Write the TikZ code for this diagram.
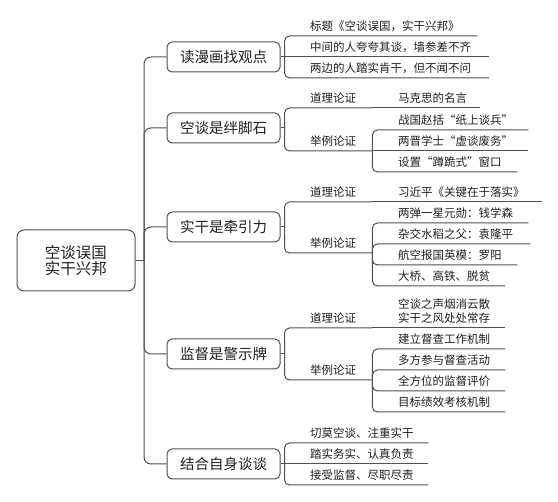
\documentclass[tikz,border=0pt]{standalone}
\usepackage{fontspec}
\newfontfamily\cjk{Noto Sans CJK SC}
\usetikzlibrary{calc}
\definecolor{linec}{HTML}{505050}
\definecolor{textc}{HTML}{1E1E1E}
\begin{document}
\begin{tikzpicture}[x=1pt,y=-1pt,
  conn/.style={draw=linec, line width=1pt, rounded corners=5pt},
  trunk/.style={draw=linec, line width=1pt, rounded corners=7pt},
  rootbox/.style={draw=linec, line width=1pt, rounded corners=7pt, minimum width=118pt, minimum height=61pt, align=center, font=\cjk\fontsize{15.5pt}{16.5pt}\selectfont, text=textc, inner sep=0pt},
  topic/.style={draw=linec, line width=1pt, rounded corners=5pt, minimum width=113pt, minimum height=30pt, font=\cjk\fontsize{14.5pt}{17pt}\selectfont, text=textc, inner sep=0pt},
  leaf/.style={anchor=south west, inner xsep=0pt, inner ysep=3pt, text width={#1pt}, align=left, execute at begin node={\hspace*{26pt}}, text height=9pt, text depth=2pt, font=\cjk\fontsize{11.5pt}{14pt}\selectfont, text=textc},
]
\useasboundingbox (0,0) rectangle (558,502);

% root and topics
\node[rootbox] (root) at (76,260.5) {空谈误国\\实干兴邦};
\node[topic] (k1) at (223.5,57) {读漫画找观点};
\node[topic] (k2) at (223.5,128) {空谈是绊脚石};
\node[topic] (k3) at (223.5,227) {实干是牵引力};
\node[topic] (k4) at (223.5,354) {监督是警示牌};
\node[topic] (k5) at (223.5,464) {结合自身谈谈};

\coordinate (tr) at (144,260.5);
\draw[trunk] (root.east) -- (tr);
\foreach \k in {k1,k2,k3,k4,k5} \draw[trunk] (tr) |- (\k.west);

\coordinate (b1) at ($(k1.east)+(4,0)$);
\coordinate (b2) at ($(k2.east)+(4,0)$);
\coordinate (b3) at ($(k3.east)+(4,0)$);
\coordinate (b4) at ($(k4.east)+(4,0)$);
\coordinate (b5) at ($(k5.east)+(4,0)$);
\foreach \k/\b in {k1/b1,k2/b2,k3/b3,k4/b4,k5/b5} \draw[conn] (\k.east) -- (\b);

% branch 1
\node[leaf=193] (t11) at (284,36) {标题《空谈误国，实干兴邦》};
\node[leaf=205] (t12) at (284,57) {中间的人夸夸其谈，墙参差不齐};
\node[leaf=205] (t13) at (284,78) {两边的人踏实肯干，但不闻不问};
\draw[conn] (b1) |- (t11.south east);
\draw[conn] (b1) -- (t12.south east);
\draw[conn] (b1) |- (t13.south east);

% branch 2
\node[leaf=88] (d2) at (284,108) {道理论证};
\node[leaf=88] (j2) at (284,151) {举例论证};
\node[leaf=108] (m2) at (372,108) {马克思的名言};
\node[leaf=156] (e21) at (372,130) {战国赵括“纸上谈兵”};
\node[leaf=156] (e22) at (372,151) {两晋学士“虚谈废务”};
\node[leaf=145] (e23) at (372,172) {设置“蹲跪式”窗口};
\draw[conn] (b2) |- (d2.south east);
\draw[conn] (b2) |- (j2.south east);
\draw[conn] (d2.south east) -- (m2.south east);
\draw[conn] (j2.south east) |- (e21.south east);
\draw[conn] (j2.south east) -- (e22.south east);
\draw[conn] (j2.south east) |- (e23.south east);

% branch 3
\node[leaf=88] (d3) at (284,202) {道理论证};
\node[leaf=88] (j3) at (284,253) {举例论证};
\node[leaf=170] (m3) at (372,202) {习近平《关键在于落实》};
\node[leaf=156] (e31) at (372,223) {两弹一星元勋：钱学森};
\node[leaf=158] (e32) at (372,244) {杂交水稻之父：袁隆平};
\node[leaf=145] (e33) at (372,265) {航空报国英模：罗阳};
\node[leaf=133] (e34) at (372,286) {大桥、高铁、脱贫};
\draw[conn] (b3) |- (d3.south east);
\draw[conn] (b3) |- (j3.south east);
\draw[conn] (d3.south east) -- (m3.south east);
\foreach \c in {e31,e32,e33,e34} \draw[conn] (j3.south east) |- (\c.south east);

% branch 4
\node[leaf=88] (d4) at (284,328) {道理论证};
\node[leaf=88] (j4) at (284,380) {举例论证};
\node[leaf=133, text depth=16pt] (m4) at (372,328) {空谈之声烟消云散\\\hspace*{26pt}实干之风处处常存};
\node[leaf=133] (e41) at (372,349) {建立督查工作机制};
\node[leaf=133] (e42) at (372,370) {多方参与督查活动};
\node[leaf=133] (e43) at (372,391) {全方位的监督评价};
\node[leaf=133] (e44) at (372,412) {目标绩效考核机制};
\draw[conn] (b4) |- (d4.south east);
\draw[conn] (b4) |- (j4.south east);
\draw[conn] (d4.south east) -- (m4.south east);
\foreach \c in {e41,e42,e43,e44} \draw[conn] (j4.south east) |- (\c.south east);

% branch 5
\node[leaf=144] (t51) at (284,443) {切莫空谈、注重实干};
\node[leaf=144] (t52) at (284,464) {踏实务实、认真负责};
\node[leaf=144] (t53) at (284,485) {接受监督、尽职尽责};
\draw[conn] (b5) |- (t51.south east);
\draw[conn] (b5) -- (t52.south east);
\draw[conn] (b5) |- (t53.south east);
\end{tikzpicture}
\end{document}
